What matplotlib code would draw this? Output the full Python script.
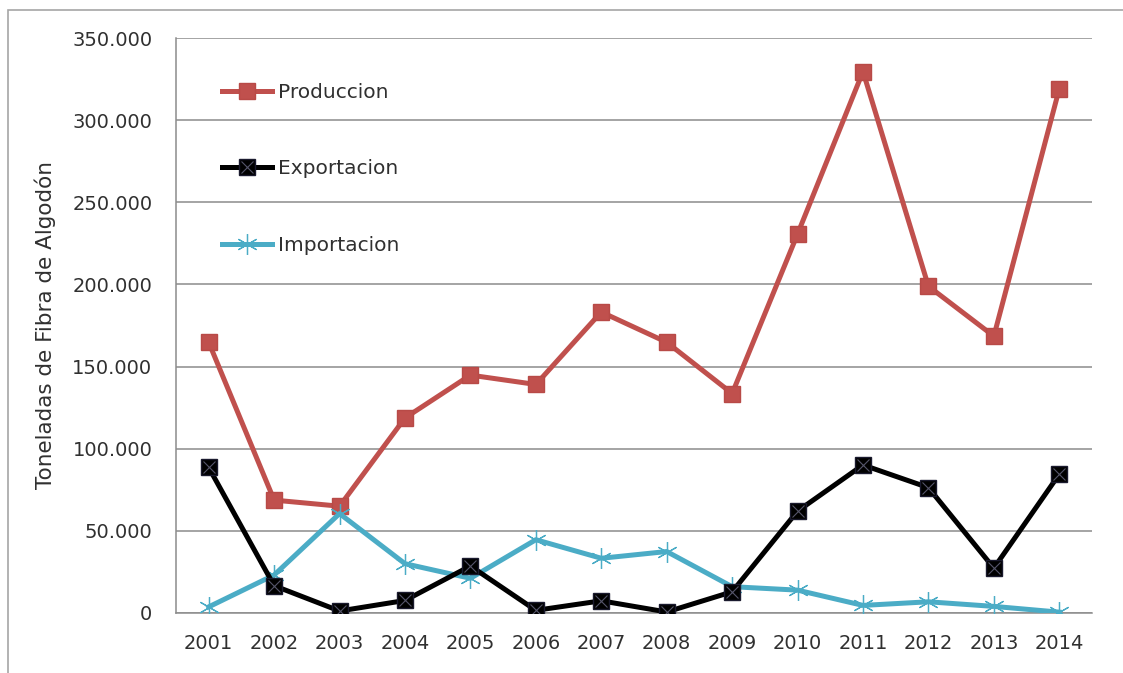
import matplotlib.pyplot as plt
from matplotlib.ticker import FuncFormatter, MultipleLocator
from matplotlib.legend_handler import HandlerTuple
from matplotlib.patches import Rectangle

plt.rcParams['font.family'] = ['DejaVu Sans']

years = ['2001', '2002', '2003', '2004', '2005', '2006', '2007',
         '2008', '2009', '2010', '2011', '2012', '2013', '2014']
produccion = [164800, 68700, 65000, 118700, 144800, 139100, 183200,
              164800, 133600, 230700, 329600, 198900, 168500, 319100]
exportacion = [88600, 16600, 1200, 7600, 28600, 1600, 7400,
               600, 12900, 62000, 90100, 76300, 27300, 84500]
importacion = [3700, 23100, 60500, 30000, 21100, 44600, 33300,
               37400, 16000, 13900, 4600, 6800, 4000, 500]

red = '#C0504D'
cyan = '#4BACC6'
grid_gray = '#8C8C8C'
text_gray = '#303030'

fig = plt.figure(figsize=(11.23, 6.73), dpi=100)
ax = fig.add_axes([0.1567, 0.0892, 0.8157, 0.8543])

x = list(range(len(years)))

l_prod, = ax.plot(x, produccion, color=red, lw=3.6, marker='s', ms=11,
                  mfc=red, mec='#B84A47', label='Produccion', zorder=3)
l_exp, = ax.plot(x, exportacion, color='black', lw=3.6, marker='s', ms=11,
                 mfc='black', mec='#1a1a2e', label='Exportacion', zorder=4)
l_expx, = ax.plot(x, exportacion, ls='none', marker='x', ms=9, mew=0.8,
                  mec='#55556a', zorder=5)
l_imp, = ax.plot(x, importacion, color=cyan, lw=3.6, marker=(6, 2, 0), ms=15,
                 mew=0.9, mec=cyan, label='Importacion', zorder=3)

ax.set_xlim(-0.5, len(years) - 0.5)
ax.set_ylim(0, 350000)
ax.yaxis.set_major_locator(MultipleLocator(50000))
ax.yaxis.set_major_formatter(
    FuncFormatter(lambda v, p: f'{int(v):,}'.replace(',', '.')))
ax.set_xticks(x)
ax.set_xticklabels(years)
ax.tick_params(length=0, labelsize=14, colors=text_gray)
ax.tick_params(axis='x', pad=15)
ax.tick_params(axis='y', pad=17)

ax.grid(axis='y', color=grid_gray, lw=1.1)
ax.set_axisbelow(True)
for side in ['top', 'right']:
    ax.spines[side].set_visible(False)
for side in ['left', 'bottom']:
    ax.spines[side].set_color(grid_gray)
    ax.spines[side].set_linewidth(1.1)

ax.set_ylabel('Toneladas de Fibra de Algodón', fontsize=15.5,
              color=text_gray, labelpad=12)

ax.legend([l_prod, (l_exp, l_expx), l_imp],
          ['Produccion', 'Exportacion', 'Importacion'],
          handler_map={tuple: HandlerTuple(ndivide=1)},
          loc='upper left', bbox_to_anchor=(0.05, 0.922),
          frameon=False, fontsize=14.5, labelspacing=2.85,
          handlelength=2.5, handletextpad=0.3, borderpad=0,
          borderaxespad=0, labelcolor=text_gray)

# outer frame of the chart area
fig.patches.append(Rectangle((8 / 1123, -0.1), 1.2, 1.1 - 10 / 673,
                             transform=fig.transFigure, fill=False,
                             edgecolor='#A6A6A6', lw=1.2))

fig.savefig('out.png', dpi=100)
